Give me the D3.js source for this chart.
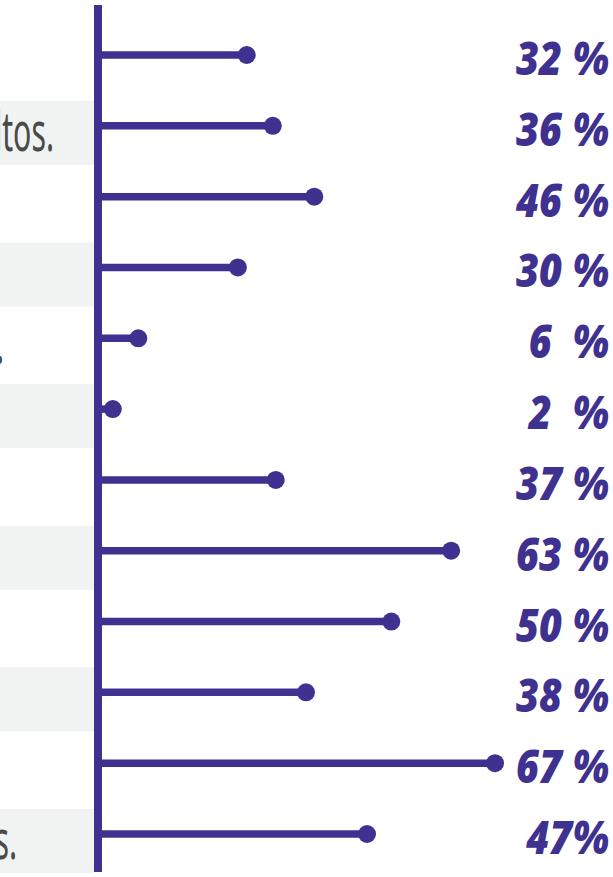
<!DOCTYPE html>
<html>
<head>
<meta charset="utf-8">
<script src="https://cdn.jsdelivr.net/npm/d3@7"></script>
<style>
  html, body { margin: 0; padding: 0; background: #fff; overflow: hidden; }
  svg { display: block; }
  .share { font-family: "Noto Sans", sans-serif; font-weight: 900; font-style: italic; white-space: pre; }
  .note { font-family: "Noto Sans", sans-serif; }
</style>
</head>
<body>
<script>
var w = 613,
    h = 877;

var purple = '#3f3190';
var bandColor = '#f1f2f2';

// one row per item, top to bottom
var categories = ['1', '2', '3', '4', '5', '6', '7', '8', '9', '10', '11', '12'];
// printed shares
var shares = [32, 36, 46, 30, 6, 2, 37, 63, 50, 38, 67, 47];
var shareLabels = ['32 %', '36 %', '46 %', '30 %', '6  %', '2  %', '37 %', '63 %', '50 %', '38 %', '67 %', '47%'];
// length of each lollipop as it is drawn in the picture (percent units)
var drawnShares = [25.1, 29.5, 36.5, 23.6, 6.8, 2.5, 30.0, 59.6, 49.5, 35.1, 67, 45.4];
// ends of the row texts that show at the left edge
var notes = ['', 'adultos.', '', '', '.', '', '', '', '', '', '', 's.'];

var y = d3.scalePoint()
          .domain(categories)
          .range([55, 834]);

var x = d3.scaleLinear()
          .domain([0, 67])
          .range([98, 495]);

var svg = d3.select('body')
          .append('svg')
          .attr('width', w)
          .attr('height', h);

// grey bands behind every second row
svg.selectAll('rect.band')
   .data(categories.filter(function(d, i) { return i % 2 == 1; }))
   .enter().append('rect')
   .attr('class', 'band')
   .attr('x', 0)
   .attr('width', 94)
   .attr('y', function(d) { return y(d) - 25; })
   .attr('height', 64)
   .attr('fill', bandColor);

// row texts (only their tails are in frame), condensed
var noteEnds = {1: 54, 4: 4, 11: 17};
svg.selectAll('text.note')
   .data(categories)
   .enter().append('text')
   .attr('class', 'note')
   .attr('text-anchor', 'end')
   .attr('transform', function(d, i) {
      return 'translate(' + (noteEnds[i] || 0) + ',' + (y(d) + 25) + ') scale(0.56,1)';
   })
   .attr('font-size', 54)
   .attr('fill', '#4a4a4a')
   .text(function(d, i) { return notes[i]; });

// stems
svg.selectAll('line.stem')
   .data(categories)
   .enter().append('line')
   .attr('class', 'stem')
   .attr('x1', x(0))
   .attr('x2', function(d, i) { return x(drawnShares[i]); })
   .attr('y1', function(d) { return y(d); })
   .attr('y2', function(d) { return y(d); })
   .attr('stroke', purple)
   .attr('stroke-width', 7.5);

// vertical axis
svg.append('line')
   .attr('x1', x(0))
   .attr('x2', x(0))
   .attr('y1', 5)
   .attr('y2', 872)
   .attr('stroke', purple)
   .attr('stroke-width', 8);

// dots
svg.selectAll('circle.dot')
   .data(categories)
   .enter().append('circle')
   .attr('class', 'dot')
   .attr('cx', function(d, i) { return x(drawnShares[i]); })
   .attr('cy', function(d) { return y(d); })
   .attr('r', 9)
   .attr('fill', purple);

// share labels, condensed
svg.selectAll('text.share')
   .data(categories)
   .enter().append('text')
   .attr('class', 'share')
   .attr('text-anchor', 'end')
   .attr('transform', function(d) { return 'translate(609,' + (y(d) + 20) + ') scale(0.86,1)'; })
   .attr('font-size', 46)
   .attr('fill', purple)
   .text(function(d, i) { return shareLabels[i]; });
</script>
</body>
</html>
